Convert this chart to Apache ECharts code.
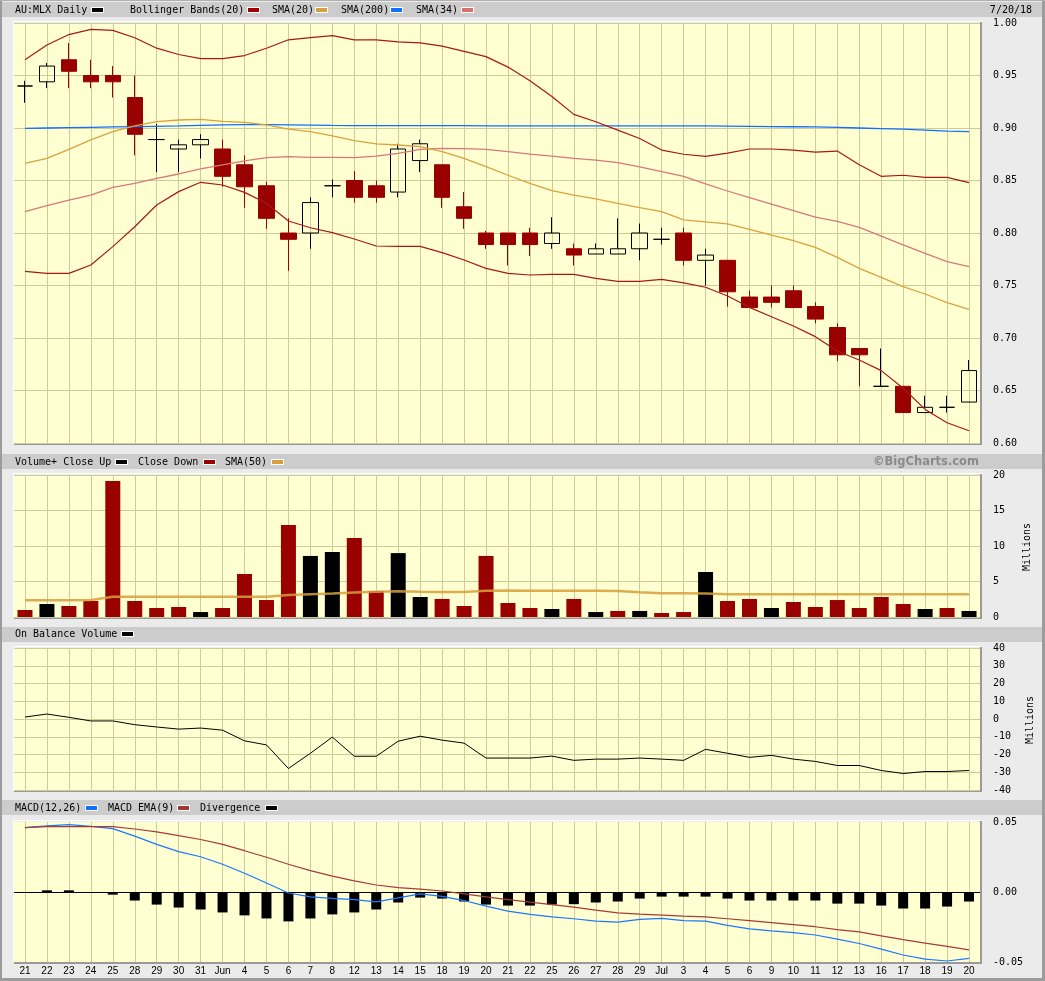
<!DOCTYPE html>
<html><head><meta charset="utf-8">
<script src="https://cdn.jsdelivr.net/npm/echarts@6/dist/echarts.min.js"></script>
<style>html,body{margin:0;padding:0;background:#ebebeb;overflow:hidden}#c{width:1045px;height:981px}</style>
</head><body><div id="c"></div>
<script>
// ---- categories ----
const days = ['2018-05-21','2018-05-22','2018-05-23','2018-05-24','2018-05-25','2018-05-28','2018-05-29','2018-05-30','2018-05-31','2018-06-01','2018-06-04','2018-06-05','2018-06-06','2018-06-07','2018-06-08','2018-06-12','2018-06-13','2018-06-14','2018-06-15','2018-06-18','2018-06-19','2018-06-20','2018-06-21','2018-06-22','2018-06-25','2018-06-26','2018-06-27','2018-06-28','2018-06-29','2018-07-02','2018-07-03','2018-07-04','2018-07-05','2018-07-06','2018-07-09','2018-07-10','2018-07-11','2018-07-12','2018-07-13','2018-07-16','2018-07-17','2018-07-18','2018-07-19','2018-07-20'];
const tickLabels = ['21','22','23','24','25','28','29','30','31','Jun','4','5','6','7','8','12','13','14','15','18','19','20','21','22','25','26','27','28','29','Jul','3','4','5','6','9','10','11','12','13','16','17','18','19','20'];

// ---- price ----
const open  = [0.940,0.944,0.965,0.950,0.950,0.929,0.889,0.880,0.884,0.880,0.865,0.845,0.800,0.800,0.845,0.850,0.845,0.839,0.869,0.865,0.825,0.800,0.800,0.800,0.790,0.785,0.780,0.780,0.785,0.794,0.800,0.774,0.774,0.739,0.739,0.745,0.730,0.710,0.690,0.654,0.654,0.629,0.634,0.639];
const close = [0.940,0.959,0.954,0.944,0.944,0.894,0.889,0.884,0.889,0.854,0.844,0.814,0.794,0.829,0.845,0.834,0.834,0.880,0.885,0.834,0.814,0.789,0.789,0.789,0.800,0.779,0.785,0.785,0.800,0.794,0.774,0.779,0.744,0.729,0.734,0.729,0.718,0.684,0.684,0.654,0.629,0.634,0.634,0.669];
const low   = [0.924,0.938,0.938,0.938,0.929,0.874,0.858,0.858,0.871,0.844,0.824,0.804,0.764,0.785,0.834,0.829,0.829,0.834,0.858,0.824,0.804,0.785,0.769,0.778,0.785,0.769,0.780,0.780,0.774,0.789,0.769,0.750,0.730,0.729,0.729,0.729,0.714,0.678,0.654,0.654,0.629,0.629,0.629,0.639];
const high  = [0.945,0.962,0.981,0.965,0.959,0.950,0.904,0.889,0.894,0.889,0.874,0.849,0.814,0.834,0.851,0.859,0.850,0.885,0.889,0.865,0.839,0.802,0.800,0.805,0.815,0.790,0.790,0.814,0.809,0.805,0.805,0.785,0.774,0.745,0.750,0.750,0.734,0.714,0.690,0.690,0.654,0.645,0.645,0.679];
const upperBand = [0.965,0.979,0.989,0.994,0.993,0.986,0.976,0.970,0.966,0.966,0.969,0.976,0.984,0.986,0.988,0.984,0.984,0.982,0.981,0.978,0.973,0.968,0.958,0.945,0.930,0.913,0.906,0.898,0.890,0.879,0.875,0.873,0.876,0.880,0.880,0.879,0.877,0.878,0.865,0.854,0.855,0.853,0.853,0.848];
const lowerBand = [0.7635,0.7616,0.7616,0.7695,0.787,0.806,0.8267,0.8394,0.8483,0.8457,0.8387,0.8283,0.8114,0.805,0.8003,0.7943,0.7876,0.7873,0.7873,0.7813,0.7743,0.7663,0.7616,0.76,0.7606,0.7606,0.7568,0.754,0.754,0.7559,0.7525,0.7483,0.74,0.7292,0.7203,0.7114,0.7013,0.6876,0.679,0.6689,0.6521,0.632,0.6193,0.6117];
const sma20  = [0.8664,0.871,0.8797,0.8886,0.8965,0.902,0.906,0.9076,0.9083,0.9063,0.9054,0.9029,0.899,0.8965,0.8924,0.888,0.8848,0.8838,0.8822,0.8775,0.871,0.8632,0.855,0.8473,0.8403,0.836,0.8324,0.8283,0.8241,0.8203,0.8125,0.8105,0.8086,0.8035,0.798,0.7927,0.7863,0.7768,0.7663,0.7578,0.7489,0.7419,0.7336,0.7273];
const sma200 = [0.8997,0.9,0.9003,0.9006,0.901,0.9013,0.9016,0.902,0.9025,0.903,0.9032,0.9032,0.903,0.9028,0.9025,0.9023,0.9022,0.9022,0.9022,0.9022,0.9022,0.9021,0.9021,0.9021,0.902,0.902,0.902,0.902,0.902,0.902,0.902,0.902,0.9018,0.9016,0.9014,0.9012,0.901,0.9005,0.9,0.8995,0.899,0.898,0.897,0.8965];
const sma34  = [0.8203,0.826,0.8314,0.836,0.8435,0.8473,0.852,0.8562,0.861,0.8648,0.8686,0.8717,0.8727,0.872,0.872,0.8717,0.8733,0.8759,0.8797,0.8806,0.8803,0.8797,0.8775,0.8752,0.8733,0.871,0.8695,0.867,0.863,0.8584,0.854,0.8467,0.840,0.8338,0.8276,0.8214,0.8152,0.811,0.8054,0.797,0.7886,0.7806,0.7727,0.768];

// ---- volume (millions) ----
const volume   = [0.99,1.83,1.55,2.25,19.15,2.25,1.27,1.41,0.70,1.27,6.06,2.39,12.96,8.60,9.15,11.13,3.66,9.00,2.82,2.54,1.55,8.60,1.97,1.27,1.13,2.54,0.70,0.85,0.85,0.56,0.70,6.34,2.25,2.54,1.27,2.11,1.41,2.39,1.27,2.82,1.83,1.13,1.27,0.85];
const volSma50 = [2.35,2.35,2.35,2.4,2.85,2.86,2.86,2.86,2.86,2.86,2.86,2.86,3.1,3.2,3.3,3.45,3.55,3.62,3.55,3.52,3.52,3.7,3.72,3.68,3.68,3.68,3.68,3.66,3.5,3.36,3.34,3.3,3.22,3.2,3.2,3.2,3.2,3.2,3.2,3.2,3.2,3.2,3.2,3.2];

// ---- on balance volume (millions) ----
const obv = [1.1,2.8,0.95,-1.1,-1.1,-3.2,-4.5,-5.7,-5.1,-6.3,-12.3,-14.6,-27.9,-19.3,-10.2,-21.0,-21.0,-12.5,-9.7,-11.9,-13.6,-22.0,-22.0,-22.0,-20.9,-23.3,-22.6,-22.6,-22.0,-22.6,-23.3,-17.1,-19.3,-21.6,-20.5,-22.6,-23.9,-26.2,-26.2,-29.0,-30.7,-29.6,-29.6,-29.0];

// ---- MACD ----
const macd = [0.046,0.0472,0.0481,0.0469,0.0453,0.0399,0.034,0.0288,0.0252,0.0198,0.0134,0.0064,-0.0007,-0.0035,-0.0045,-0.0054,-0.0071,-0.0042,-0.0014,-0.0031,-0.0061,-0.0101,-0.0137,-0.016,-0.0177,-0.0191,-0.0208,-0.0215,-0.0196,-0.0189,-0.0205,-0.0208,-0.0238,-0.0264,-0.0278,-0.029,-0.0307,-0.0337,-0.0368,-0.0408,-0.045,-0.0479,-0.0493,-0.0474];
const macdSignal = [0.046,0.0467,0.0467,0.0467,0.0467,0.045,0.0429,0.0403,0.0375,0.034,0.0295,0.0248,0.0198,0.0153,0.0113,0.008,0.005,0.0031,0.0021,0.0007,-0.0014,-0.0035,-0.0054,-0.0073,-0.009,-0.0108,-0.013,-0.0149,-0.0158,-0.0165,-0.0172,-0.0177,-0.0191,-0.0205,-0.0219,-0.0233,-0.0248,-0.0269,-0.0285,-0.0314,-0.034,-0.0365,-0.0389,-0.0413];
const divergence = [0,0.0012,0.0012,0,-0.0019,-0.0061,-0.009,-0.0111,-0.0125,-0.0146,-0.0167,-0.0189,-0.021,-0.0189,-0.016,-0.0146,-0.0125,-0.0075,-0.004,-0.0047,-0.0068,-0.009,-0.0097,-0.0097,-0.009,-0.0087,-0.0075,-0.0068,-0.0047,-0.0033,-0.0033,-0.0033,-0.0047,-0.0061,-0.0061,-0.0061,-0.0061,-0.0083,-0.0083,-0.0097,-0.0118,-0.0118,-0.0104,-0.0068];

// ---- layout / style ----
const MONO = '"DejaVu Sans Mono", monospace';
const GRIDC = '#cccc99';
const grids = [
  {left:14, right:65, top:23,  height:420},
  {left:14, right:65, top:475, height:142},
  {left:14, right:65, top:648, height:142},
  {left:14, right:65, top:822, height:140}
];

const chart = echarts.init(document.getElementById('c'), null, {renderer:'canvas'});

function yAx(i, min, max, interval, fmt, split){
  return {type:'value', gridIndex:i, position:'right', min, max, interval, scale:false,
    axisLine:{show:false}, axisTick:{show:false},
    axisLabel:{formatter:fmt, margin:13, color:'#000', fontFamily:MONO, fontSize:10},
    splitLine:{show:split, lineStyle:{color:GRIDC, width:1}}};
}
function lineS(i, data, color, width, extra){
  return Object.assign({type:'line', xAxisIndex:i, yAxisIndex:i, data, symbol:'none', silent:true,
    lineStyle:{color, width}, z:5, animation:false}, extra||{});
}

// graphics
const G = [];
function rect(x,y,w,h,fill){G.push({type:'rect', silent:true, shape:{x,y,width:w,height:h}, style:{fill}});}
function text(x,y,s,opt){G.push({type:'text', silent:true, x, y, rotation:(opt&&opt.rot)||0,
  style:{text:s, fill:(opt&&opt.fill)||'#000', font:(opt&&opt.font)||('10px '+MONO), align:(opt&&opt.align)||'left', verticalAlign:'middle'}});}
function swatch(x,yc,color){rect(x-1,yc-3,13,6,'#ffffff'); rect(x,yc-2,11,4,color);}

// outer frame
rect(0,0,2,981,'#9c9c9c'); rect(1042,0,3,981,'#9c9c9c'); rect(0,978,1045,3,'#9c9c9c'); rect(0,0,1045,1,'#b0b0b0');
// header bars
[[2,15],[454,15],[627,15],[800,15]].forEach(([y,h])=>rect(2,y,1040,h,'#cccccc'));
// price header
text(15,10,'AU:MLX Daily'); swatch(92,10,'#000000');
text(130,10,'Bollinger Bands(20)'); swatch(248,10,'#a00000');
text(272,10,'SMA(20)'); swatch(316,10,'#d6a03c');
text(341,10,'SMA(200)'); swatch(391,10,'#1070ff');
text(416,10,'SMA(34)'); swatch(462,10,'#d87070');
text(1032,10,'7/20/18',{align:'right'});
// volume header
text(15,462,'Volume+ Close Up'); swatch(116,462,'#000000');
text(138,462,'Close Down'); swatch(204,462,'#990000');
text(225,462,'SMA(50)'); swatch(272,462,'#d6a03c');
text(979,462,'\u00a9BigCharts.com',{align:'right', fill:'#8a8a8a', font:'bold 11.5px "DejaVu Sans", sans-serif'});
// OBV header
text(15,634,'On Balance Volume'); swatch(122,634,'#000000');
// MACD header
text(15,808,'MACD(12,26)'); swatch(86,808,'#1070ff');
text(108,808,'MACD EMA(9)'); swatch(178,808,'#a03838');
text(200,808,'Divergence'); swatch(266,808,'#000000');
// Millions labels
text(1027,547,'Millions',{rot:Math.PI/2, align:'center'});
text(1030,720,'Millions',{rot:Math.PI/2, align:'center'});
// plot bevels
grids.forEach(g=>{
  const t=g.top, b=g.top+g.height;
  rect(13,t-2,969,1,'#ffffff'); rect(13,t-2,1,g.height+2,'#ffffff');
  rect(14,b,968,2,'#9a9a9a'); rect(980,t-1,2,g.height+3,'#9a9a9a');
});

const candleData = days.map((d,i)=>{
  const it = {value:[open[i], close[i], low[i], high[i]]};
  if (open[i] === close[i]) it.itemStyle = {color:'rgba(0,0,0,0)', color0:'rgba(0,0,0,0)', borderColor:'#000', borderColor0:'#000'};
  return it;
});
const volData = volume.map((v,i)=>({value:v, itemStyle:{color:(i>0 && close[i]>close[i-1]) ? '#000000' : '#990000'}}));

chart.setOption({
  animation:false,
  backgroundColor:'#ebebeb',
  grid: grids.map(g=>Object.assign({show:true, backgroundColor:'#ffffd2', borderWidth:0}, g)),
  xAxis: grids.map((g,i)=>({
    type:'category', gridIndex:i, data:days, boundaryGap:true,
    axisLine:{show:false}, axisTick:{show:false},
    axisLabel:{show:i===3, interval:0, formatter:(v,idx)=>tickLabels[idx], color:'#000',
      fontFamily:'"Liberation Sans", Arial, sans-serif', fontSize:10, margin:4},
    splitLine:{show:true, interval:0, alignWithLabel:true, lineStyle:{color:GRIDC, width:1}}
  })),
  yAxis: [
    yAx(0, 0.6, 1.0, 0.05, v=>v.toFixed(2), true),
    yAx(1, 0, 20, 5, v=>String(v), true),
    yAx(2, -40, 40, 10, v=>String(v), true),
    yAx(3, -0.05, 0.05, 0.05, v=>v.toFixed(2), false)
  ],
  graphic: G,
  series: [
    {type:'candlestick', xAxisIndex:0, yAxisIndex:0, barWidth:16, data:candleData, silent:true, z:3,
      itemStyle:{color:'rgba(0,0,0,0)', color0:'#990000', borderColor:'#000000', borderColor0:'#990000', borderWidth:1}},
    lineS(0, sma200, '#1070ff', 1.3),
    lineS(0, sma34, '#d87878', 1.3),
    lineS(0, sma20, '#d9a23e', 1.3),
    lineS(0, upperBand, '#a81818', 1.2),
    lineS(0, lowerBand, '#a81818', 1.2),
    {type:'bar', xAxisIndex:1, yAxisIndex:1, barWidth:15, data:volData, silent:true, z:3},
    lineS(1, volSma50, 'rgba(214,160,60,0.85)', 2.5),
    lineS(2, obv, '#000000', 1),
    {type:'bar', xAxisIndex:3, yAxisIndex:3, barWidth:10, data:divergence, silent:true, z:3,
      itemStyle:{color:'#000000'},
      markLine:{silent:true, symbol:['none','none'], label:{show:false}, animation:false,
        lineStyle:{color:'#000', width:1, type:'solid'}, data:[{yAxis:0}]}},
    lineS(3, macd, '#1a78ff', 1.2),
    lineS(3, macdSignal, '#a83a3a', 1.2)
  ]
});
</script>
</body></html>
